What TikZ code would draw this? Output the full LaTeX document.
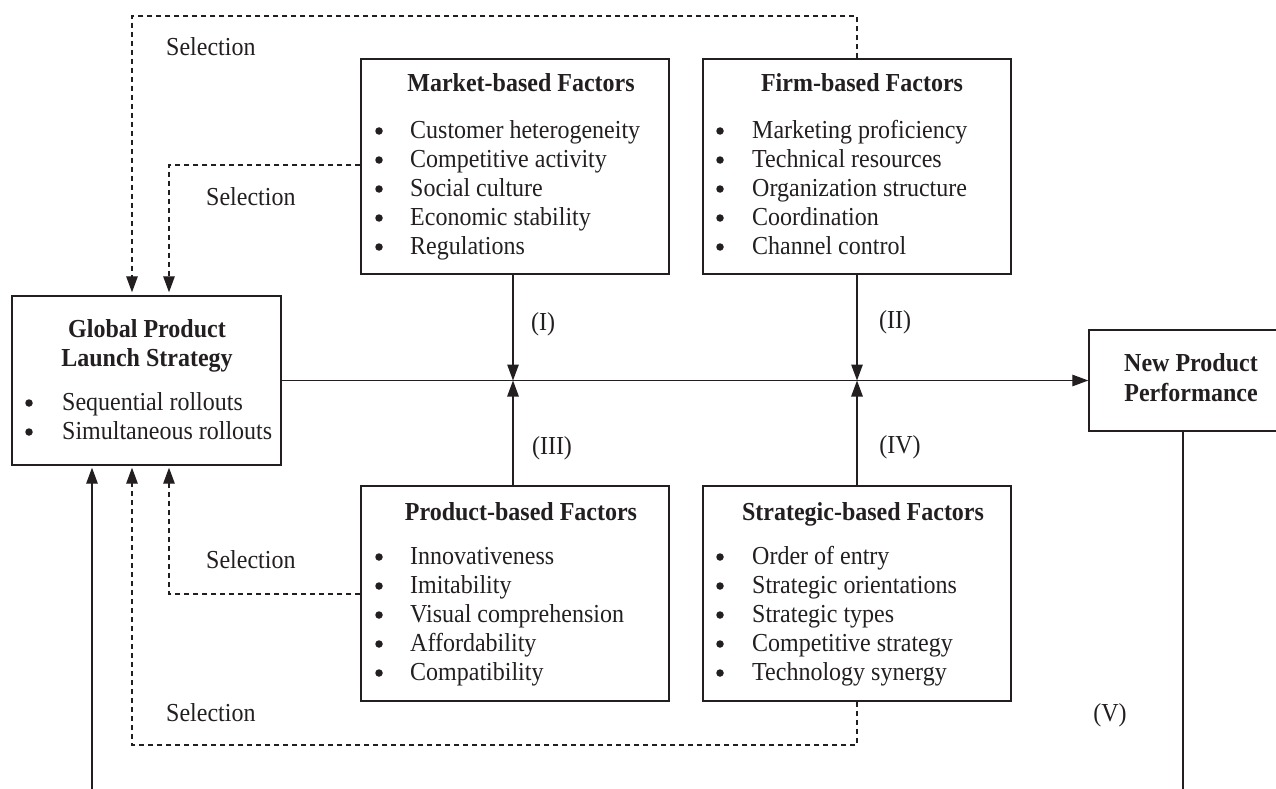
\documentclass[tikz,border=0pt]{standalone}
\usepackage{fontspec}
\usepackage{graphicx}
\setmainfont{Liberation Serif}
\usetikzlibrary{arrows.meta}
\definecolor{ink}{HTML}{231F20}
\newcommand\tallt[1]{\scalebox{1}[1.08]{#1}}
\begin{document}
\begin{tikzpicture}[x=1pt,y=-1pt,
  box/.style={draw=ink,line width=1.4pt,inner sep=0pt,rectangle},
  ttl/.style={font=\fontsize{24}{29}\selectfont\bfseries,text=ink,inner sep=0pt,anchor=mid},
  itm/.style={font=\fontsize{24}{29}\selectfont,text=ink,inner sep=0pt,anchor=mid west},
  bul/.style={circle,fill=ink,inner sep=0pt,minimum size=7.5pt},
  lbl/.style={font=\fontsize{24}{29}\selectfont,text=ink,inner sep=0pt},
  conn/.style={draw=ink,line width=1.3pt},
  dsh/.style={conn,dash pattern=on 5pt off 4pt},
  arr/.style={-{Triangle[length=16pt,width=11.5pt]}},
]
\useasboundingbox (0,0) rectangle (1276,789);

% boxes
\node[box,minimum width=269pt,minimum height=169pt] (G) at (146.5,380.5) {};
\node[box,minimum width=308pt,minimum height=215pt] (M) at (515,166.5) {};
\node[box,minimum width=308pt,minimum height=215pt] (F) at (857,166.5) {};
\node[box,minimum width=308pt,minimum height=215pt] (P) at (515,593.5) {};
\node[box,minimum width=308pt,minimum height=215pt] (S) at (857,593.5) {};
\node[box,minimum width=204pt,minimum height=101pt] (N) at (1191,380.5) {};

% Global box text
\node[ttl] (g1) at (147,335) {\tallt{Global Product}};
\node[ttl] (g2) at (147,364) {\tallt{Launch Strategy}};
\node[bul] (gb1) at (29,403) {};
\node[itm] (gi1) at (62,408) {\tallt{Sequential rollouts}};
\node[bul] (gb2) at (29,432) {};
\node[itm] (gi2) at (62,437) {\tallt{Simultaneous rollouts}};

% Market box text
\node[ttl] (mt) at (521,89) {\tallt{Market-based Factors}};
\foreach \t [count=\i] in {Customer heterogeneity,Competitive activity,Social culture,Economic stability,Regulations}{
  \node[bul] (mb\i) at (379,{131+29*(\i-1)}) {};
  \node[itm] (mi\i) at (410,{136+29*(\i-1)}) {\tallt{\t}};
}
% Firm box text
\node[ttl] (ft) at (862,89.5) {\tallt{Firm-based Factors}};
\foreach \t [count=\i] in {Marketing proficiency,Technical resources,Organization structure,Coordination,Channel control}{
  \node[bul] (fb\i) at (720,{131+29*(\i-1)}) {};
  \node[itm] (fi\i) at (752,{136+29*(\i-1)}) {\tallt{\t}};
}
% Product box text
\node[ttl] (pt) at (521,518) {\tallt{Product-based Factors}};
\foreach \t [count=\i] in {Innovativeness,Imitability,Visual comprehension,Affordability,Compatibility}{
  \node[bul] (pb\i) at (379,{557+29*(\i-1)}) {};
  \node[itm] (pi\i) at (410,{562+29*(\i-1)}) {\tallt{\t}};
}
% Strategic box text
\node[ttl] (st) at (863,518) {\tallt{Strategic-based Factors}};
\foreach \t [count=\i] in {Order of entry,Strategic orientations,Strategic types,Competitive strategy,Technology synergy}{
  \node[bul] (sb\i) at (720,{557+29*(\i-1)}) {};
  \node[itm] (si\i) at (752,{562+29*(\i-1)}) {\tallt{\t}};
}
% New product box text
\node[ttl] (n1) at (1191,369) {\tallt{New Product}};
\node[ttl] (n2) at (1191,399) {\tallt{Performance}};

% labels
\node[lbl,anchor=mid west] (s1) at (166,53) {\tallt{Selection}};
\node[lbl,anchor=mid west] (s2) at (206,203) {\tallt{Selection}};
\node[lbl,anchor=mid west] (s3) at (206,566) {\tallt{Selection}};
\node[lbl,anchor=mid west] (s4) at (166,719) {\tallt{Selection}};
\node[lbl] (l1) at (543,324) {\tallt{(I)}};
\node[lbl] (l2) at (895,322) {\tallt{(II)}};
\node[lbl] (l3) at (552,448) {\tallt{(III)}};
\node[lbl] (l4) at (900,447) {\tallt{(IV)}};
\node[lbl] (l5) at (1110,715) {\tallt{(V)}};

% coordinates
\coordinate (j1) at (513,380.5);
\coordinate (j2) at (857,380.5);
\coordinate (c1) at (132,16);
\coordinate (c2) at (169,165);
\coordinate (c3) at (169,594);
\coordinate (c4) at (132,745);
\coordinate (c5) at (92,789);
\coordinate (c6) at (1183,789);

% main flow
\draw[conn,arr] (G.east) -- (N.west);
\draw[conn,arr] (j1 |- M.south) -- (j1);
\draw[conn,arr] (j1 |- P.north) -- (j1);
\draw[conn,arr] (F.south) -- (j2);
\draw[conn,arr] (S.north) -- (j2);

% selection feedback
\draw[dsh,arr,shorten >=3pt] (F.north) |- (c1) -- (G.north -| c1);
\draw[dsh,arr,shorten >=3pt] (c2 -| M.west) -- (c2) -- (G.north -| c2);
\draw[dsh,arr,shorten >=2pt] (c3 -| P.west) -- (c3) -- (G.south -| c3);
\draw[dsh,arr,shorten >=2pt] (S.south) |- (c4) -- (G.south -| c4);
\draw[conn,arr,shorten >=2pt] (c5) -- (G.south -| c5);
\draw[conn] (N.south -| c6) -- (c6);
\end{tikzpicture}
\end{document}
